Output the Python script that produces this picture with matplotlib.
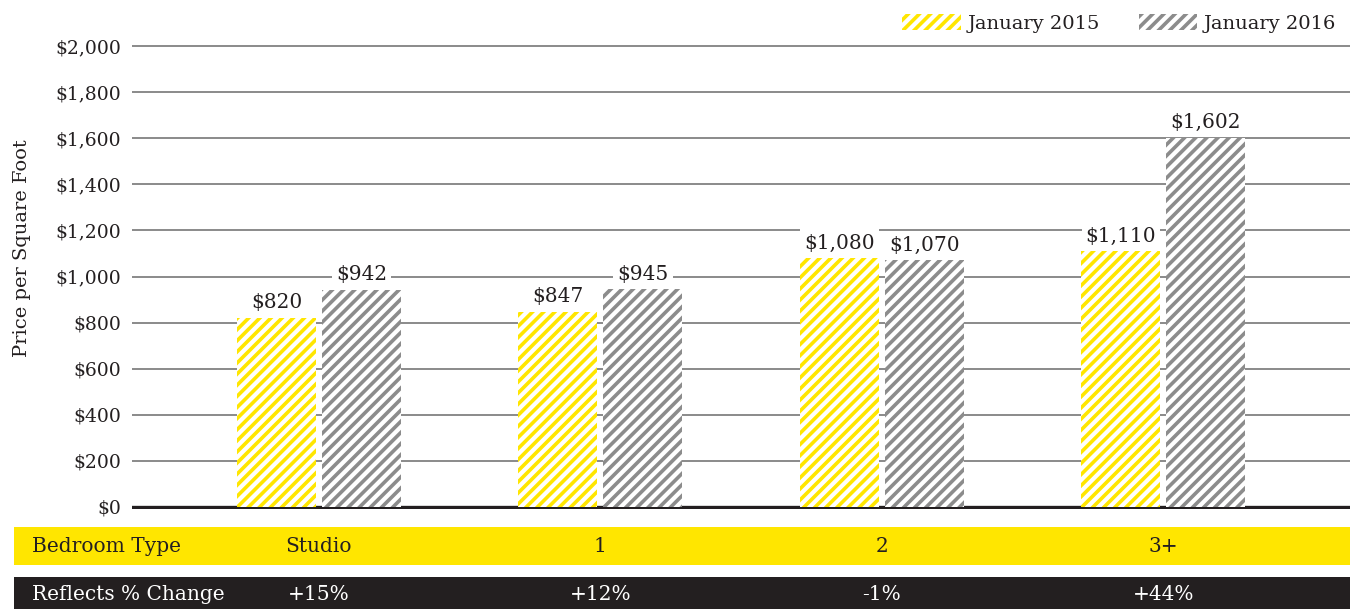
import matplotlib
matplotlib.use("Agg")
import matplotlib.pyplot as plt
from matplotlib.patches import Rectangle
from matplotlib.transforms import blended_transform_factory
from matplotlib.ticker import FuncFormatter

# ---- data ----
categories = ["Studio", "1", "2", "3+"]
jan_2015 = [820, 847, 1080, 1110]
jan_2016 = [942, 945, 1070, 1602]
pct_change = ["+15%", "+12%", "-1%", "+44%"]
series_names = ["January 2015", "January 2016"]
yticks = [0, 200, 400, 600, 800, 1000, 1200, 1400, 1600, 1800, 2000]

YELLOW = "#FFE600"
GRAY = "#8C8C8C"
DARK = "#231F20"
GRID = "#8A8A8A"

plt.rcParams["font.family"] = ["DejaVu Serif"]
plt.rcParams["hatch.linewidth"] = 2.6

W, H = 1350, 609
fig = plt.figure(figsize=(W / 100, H / 100), dpi=100)

# axes placement (pixel-derived)
ax_left = 132 / W
ax_bottom = (H - 509.3) / H
ax_top = (H - 43.7) / H
ax = fig.add_axes([ax_left, ax_bottom, 1 - ax_left, ax_top - ax_bottom])

x = list(range(len(categories)))
bw = 0.281
off = 0.151
b1 = ax.bar([i - off for i in x], jan_2015, width=bw, facecolor="white",
            edgecolor=YELLOW, linewidth=0, hatch="///", zorder=3, label=series_names[0])
b2 = ax.bar([i + off for i in x], jan_2016, width=bw, facecolor="white",
            edgecolor=GRAY, linewidth=0, hatch="///", zorder=3, label=series_names[1])

ax.set_xlim(-0.664, 3.663)
ax.set_ylim(-10, 2010)
ax.set_yticks(yticks)
ax.yaxis.set_major_formatter(FuncFormatter(lambda v, p: f"${int(v):,}"))
ax.set_xticks([])
ax.tick_params(axis="y", length=0, pad=8, labelsize=13.5, labelcolor=DARK)
for s in ax.spines.values():
    s.set_visible(False)
for t in yticks[1:]:
    ax.axhline(t, color=GRID, lw=1.4, zorder=1)
ax.axhline(0, color=DARK, lw=2.4, zorder=2)

# value labels
for bars, vals in ((b1, jan_2015), (b2, jan_2016)):
    for rect, v in zip(bars, vals):
        ax.annotate(f"${v:,}", (rect.get_x() + rect.get_width() / 2, v),
                    xytext=(0, 4), textcoords="offset points", ha="center", va="bottom",
                    fontsize=14.5, color=DARK, zorder=4,
                    bbox=dict(boxstyle="square,pad=0.2", fc="white", ec="none"))

# y label
fig.text(22 / W, (H - 248) / H, "Price per Square Foot", rotation=90, ha="center",
         va="center", fontsize=14, color=DARK)

# legend
leg = fig.legend(handles=[b1, b2], labels=series_names, loc="upper right",
                 bbox_to_anchor=(1.0, 1.0), ncol=2, frameon=False, fontsize=14,
                 handlelength=3.0, handleheight=0.95, handletextpad=0.35,
                 columnspacing=2.0, borderaxespad=0.3, labelcolor=DARK)

# bottom bands
fig.patches.append(Rectangle((14 / W, (H - 565) / H), 1 - 14 / W, 38 / H,
                             transform=fig.transFigure, fc=YELLOW, ec="none", zorder=1))
fig.patches.append(Rectangle((14 / W, 0), 1 - 14 / W, (H - 577) / H,
                             transform=fig.transFigure, fc=DARK, ec="none", zorder=1))

tr = blended_transform_factory(ax.transData, fig.transFigure)
y_band1 = (H - 547) / H
y_band2 = (H - 595) / H
fig.text(32 / W, y_band1, "Bedroom Type", ha="left", va="center", fontsize=14.5, color=DARK, zorder=5)
fig.text(32 / W, y_band2, "Reflects % Change", ha="left", va="center", fontsize=14.5, color="white", zorder=5)
for i, (c, p) in enumerate(zip(categories, pct_change)):
    fig.text(i, y_band1, c, transform=tr, ha="center", va="center", fontsize=14.5, color=DARK, zorder=5)
    fig.text(i, y_band2, p, transform=tr, ha="center", va="center", fontsize=14.5, color="white", zorder=5)

fig.savefig("out.png", dpi=100)
